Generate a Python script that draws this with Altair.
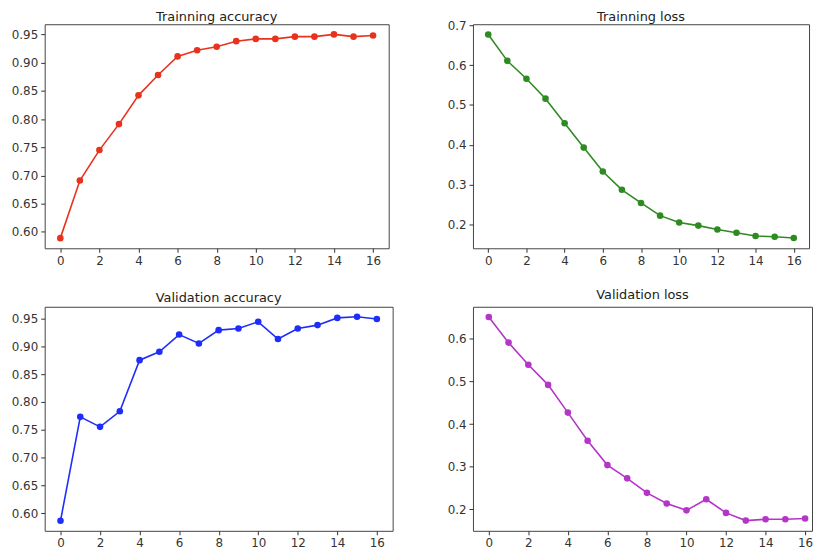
import altair as alt
import pandas as pd

epochs = list(range(17))
train_acc = [0.589, 0.691, 0.745, 0.791, 0.842, 0.878, 0.911, 0.922, 0.928, 0.938,
             0.942, 0.942, 0.946, 0.946, 0.950, 0.946, 0.948]
train_loss = [0.677, 0.611, 0.566, 0.516, 0.454, 0.393, 0.333, 0.287, 0.254, 0.222,
              0.205, 0.197, 0.187, 0.179, 0.171, 0.169, 0.166]
val_acc = [0.586, 0.773, 0.755, 0.783, 0.875, 0.890, 0.921, 0.905, 0.929, 0.932,
           0.944, 0.913, 0.932, 0.938, 0.951, 0.953, 0.949]
val_loss = [0.651, 0.591, 0.539, 0.492, 0.427, 0.361, 0.304, 0.273, 0.239, 0.214,
            0.198, 0.224, 0.192, 0.174, 0.177, 0.177, 0.179]

x_ticks = [0, 2, 4, 6, 8, 10, 12, 14, 16]
acc_ticks = [0.60, 0.65, 0.70, 0.75, 0.80, 0.85, 0.90, 0.95]
loss_ticks = [0.2, 0.3, 0.4, 0.5, 0.6, 0.7]
val_loss_ticks = [0.2, 0.3, 0.4, 0.5, 0.6]

FONT = "DejaVu Sans"


def panel(values, title, color, ydomain, yticks, yfmt, width, height,
          yextent, title_offset, xdomain=(-0.8, 16.8)):
    df = pd.DataFrame({"epoch": epochs, "value": values})
    return alt.Chart(df).mark_line(
        color=color, strokeWidth=1.6,
        point=alt.OverlayMarkDef(filled=True, size=44, color=color, opacity=1),
    ).encode(
        x=alt.X("epoch:Q", scale=alt.Scale(domain=list(xdomain), nice=False, zero=False),
                axis=alt.Axis(values=x_ticks, title=None, format="d",
                              minExtent=20, maxExtent=20)),
        y=alt.Y("value:Q", scale=alt.Scale(domain=list(ydomain), nice=False, zero=False),
                axis=alt.Axis(values=yticks, title=None, format=yfmt,
                              minExtent=yextent, maxExtent=yextent)),
    ).properties(
        width=width, height=height,
        title=alt.TitleParams(title, anchor="middle", offset=title_offset),
    )


p1 = panel(train_acc, "Trainning accuracy", "#e8321e", (0.571, 0.968),
           acc_ticks, ".2f", 347, 226, 36, 0)
p2 = panel(train_loss, "Trainning loss", "#2e8b22", (0.140, 0.703),
           loss_ticks, ".1f", 339, 226, 63, -5)
p3 = panel(val_acc, "Validation accuracy", "#1f2dfa", (0.568, 0.971),
           acc_ticks, ".2f", 351, 226, 33, 2)
p4 = panel(val_loss, "Validation loss", "#b535c8", (0.150, 0.675),
           val_loss_ticks, ".1f", 342, 226, 59, 5, xdomain=(-0.8, 16.35))

top = alt.hconcat(p1, p2, spacing=20)
bottom = alt.hconcat(p3, p4, spacing=20)

chart = alt.vconcat(top, bottom, spacing=19).properties(
    padding={"left": 0, "top": 0, "right": 0, "bottom": 0},
    background="white",
).configure_view(
    stroke="#444", strokeWidth=1,
).configure_axis(
    domain=False, grid=False,
    tickColor="#333", tickSize=4, tickWidth=1,
    labelPadding=3, labelColor="#333", labelFont=FONT, labelFontSize=12,
).configure_title(
    font=FONT, fontSize=13, fontWeight="normal", color="#222",
)

chart.save("out.html", embed_options={"renderer": "svg", "actions": False})
